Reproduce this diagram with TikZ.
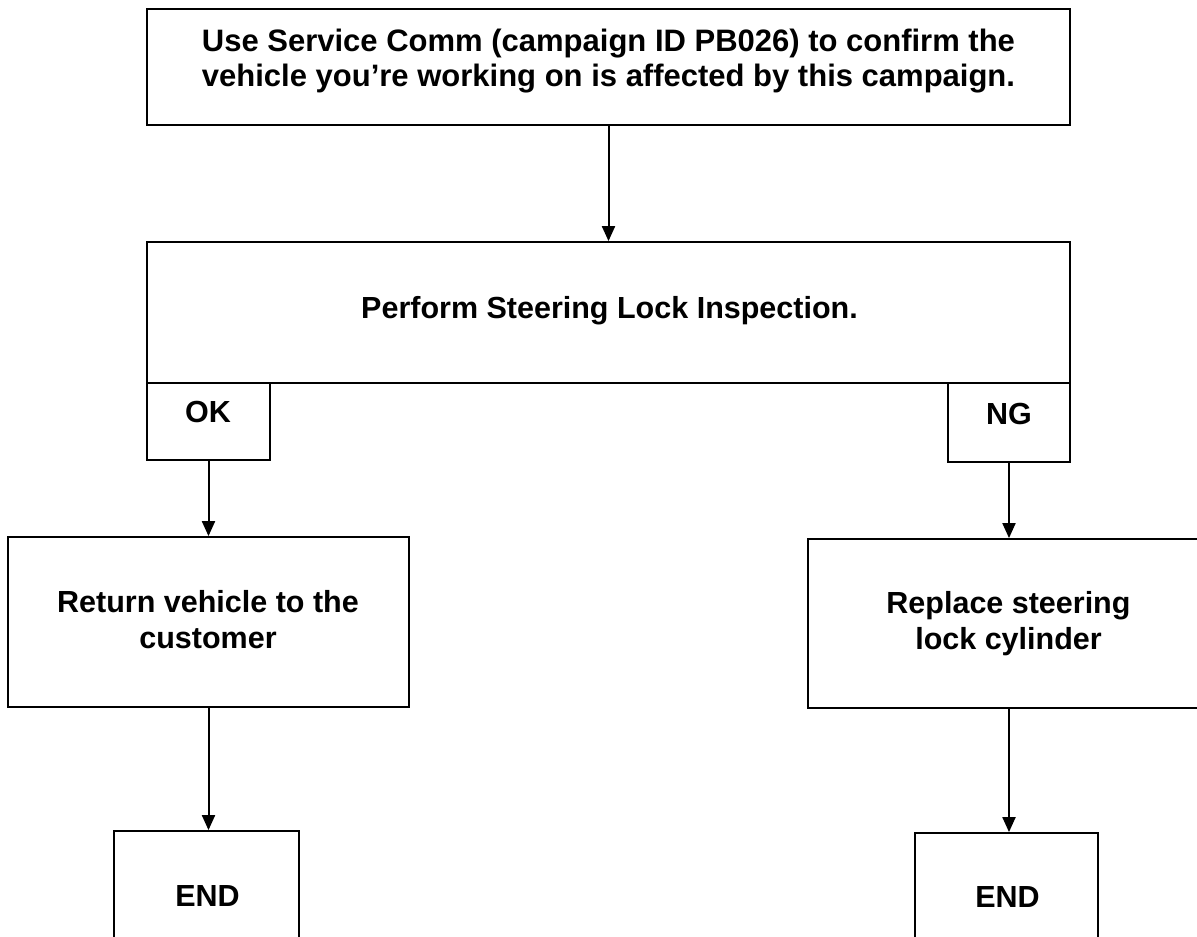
\documentclass[tikz,border=0pt]{standalone}
\usepackage{fontspec}
\setmainfont{Liberation Sans}
\usetikzlibrary{arrows.meta}
\begin{document}
\begin{tikzpicture}[x=1pt,y=-1pt,
  box/.style={draw=black, line width=1.8pt, rectangle, inner sep=0pt},
  lbl/.style={font=\fontsize{30.5}{36}\selectfont\bfseries, align=center, inner sep=0pt, anchor=base},
  conn/.style={draw=black, line width=2pt, -{Triangle[length=15pt,width=13pt]}}]
\useasboundingbox (0,0) rectangle (1197,937);
\clip (0,0) rectangle (1197,937);
% boxes
\node[box, minimum width=923pt, minimum height=116pt] (top) at (608.5,67) {};
\node[box, minimum width=923pt, minimum height=141pt] (big) at (608.5,312.5) {};
\node[box, minimum width=123pt, minimum height=77pt] (ok) at (208.5,421.5) {};
\node[box, minimum width=122pt, minimum height=79pt] (ng) at (1009,422.5) {};
\node[box, minimum width=401pt, minimum height=170pt] (ret) at (208.5,622) {};
\node[box, minimum width=402pt, minimum height=169pt] (rep) at (1009,623.5) {};
\node[box, minimum width=185pt, minimum height=140pt] (endl) at (206.5,901) {};
\node[box, minimum width=183pt, minimum height=140pt] (endr) at (1006.5,903) {};
% texts (base anchor = baseline of the last line)
\node[lbl, font=\fontsize{31}{35}\selectfont\bfseries] (ttop) at (608.5,86) {Use Service Comm (campaign ID PB026) to confirm the\\vehicle you’re working on is affected by this campaign.};
\node[lbl] (tbig) at (609.5,318) {Perform Steering Lock Inspection.};
\node[lbl] (tok) at (208,422) {OK};
\node[lbl] (tng) at (1009,424) {NG};
\node[lbl] (tret) at (208,648) {Return vehicle to the\\customer};
\node[lbl] (trep) at (1008.5,649) {Replace steering\\lock cylinder};
\node[lbl] (tendl) at (207.5,906) {END};
\node[lbl] (tendr) at (1007.5,907) {END};
% connectors
\draw[conn] (top.south) -- (big.north);
\draw[conn] (ok.south) -- (ret.north);
\draw[conn] (ng.south) -- (rep.north);
\draw[conn] (ret.south) -- (ret.south |- endl.north);
\draw[conn] (rep.south) -- (rep.south |- endr.north);
\end{tikzpicture}
\end{document}
